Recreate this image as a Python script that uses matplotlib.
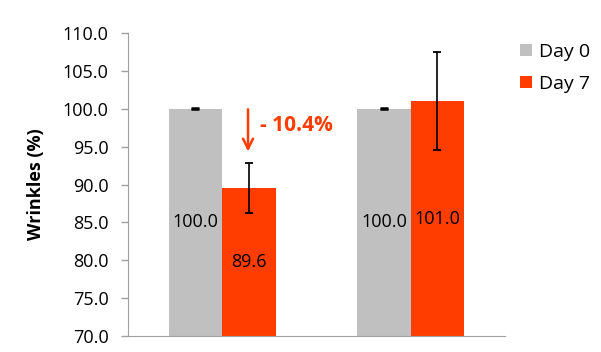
import matplotlib
matplotlib.use("Agg")
import matplotlib.pyplot as plt
import numpy as np

plt.rcParams['font.family'] = ['Open Sans', 'DejaVu Sans']

groups = ["Group A", "Group B"]
series = ["Day 0", "Day 7"]
day0 = [100.0, 100.0]
day7 = [89.6, 101.0]
err0 = [0.05, 0.05]
err7 = [3.3, 6.45]
colors = ["#C0C0C0", "#FF3D00"]
change_label = "- 10.4%"

fig = plt.figure(figsize=(6.01, 3.52), dpi=100)
ax = fig.add_axes([0.213, 0.0455, 0.627, 0.8605])

x = np.array([0.5, 1.5])
w = 0.284
ax.bar(x - w/2, day0, w, color=colors[0], label=series[0], zorder=2)
ax.bar(x + w/2, day7, w, color=colors[1], label=series[1], zorder=2)
ax.errorbar(x - w/2, day0, yerr=err0, fmt='none', ecolor='black', elinewidth=1.0, capsize=3, capthick=1.8, zorder=3)
ax.errorbar(x + w/2, day7, yerr=err7, fmt='none', ecolor='black', elinewidth=1.2, capsize=3, capthick=1.3, zorder=3)

ymin = 70
for xi, v in zip(x - w/2, day0):
    ax.text(xi, (ymin + v) / 2, f"{v:.1f}", ha='center', va='center', fontsize=13, color='black', zorder=4)
for xi, v in zip(x + w/2, day7):
    ax.text(xi, (ymin + v) / 2, f"{v:.1f}", ha='center', va='center', fontsize=13, color='black', zorder=4)

ax.set_ylim(70, 110)
ax.set_xlim(0, 2)
ticks = np.arange(70, 110.1, 5)
ax.set_yticks(ticks)
ax.set_yticklabels([f"{t:.1f}" for t in ticks], fontsize=13)
ax.set_xticks([])
for s in ['top', 'right']:
    ax.spines[s].set_visible(False)
ax.spines['left'].set_color('#A0A0A0')
ax.spines['bottom'].set_color('#A0A0A0')
ax.tick_params(axis='y', color='#A0A0A0', length=5, width=1, pad=9)
ax.set_ylabel("Wrinkles (%)", fontsize=13, fontweight='bold', labelpad=13)

# annotation arrow for change
xa = x[0] + w/2 - 0.005
ax.annotate("", xy=(xa, 94.0), xytext=(xa, 100.3),
            arrowprops=dict(arrowstyle='->', color=colors[1], lw=1.8, mutation_scale=18), zorder=4)
ax.text(0.70, 97.85, change_label, color=colors[1], fontsize=15, fontweight='bold', va='center', ha='left')

ax.legend(loc='upper left', bbox_to_anchor=(1.0, 1.02), frameon=False, fontsize=14,
          handlelength=0.6, handleheight=0.6, handletextpad=0.35, labelspacing=0.75,
          borderaxespad=0.4)

fig.savefig("out.png", dpi=100)
